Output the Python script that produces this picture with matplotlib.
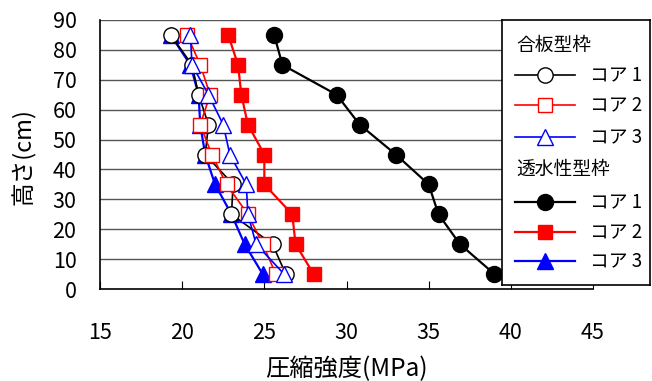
import matplotlib
matplotlib.use("Agg")
import matplotlib.pyplot as plt
from matplotlib.lines import Line2D

plt.rcParams['font.family'] = ['Noto Sans CJK JP', 'DejaVu Sans']

heights = [85, 75, 65, 55, 45, 35, 25, 15, 5]

# 合板型枠 (plywood formwork)
ply_core1 = [19.3, 20.6, 21.0, 21.6, 21.4, 23.1, 23.0, 25.5, 26.3]
ply_core2 = [20.3, 21.1, 21.7, 21.1, 21.8, 22.7, 24.0, 24.9, 25.7]
ply_core3 = [20.5, 20.6, 21.6, 22.5, 22.9, 23.9, 24.0, 24.5, 26.2]

# 透水性型枠 (permeable formwork)
perm_core1 = [25.6, 26.1, 29.4, 30.8, 33.0, 35.0, 35.6, 36.9, 39.0]
perm_core2 = [22.8, 23.4, 23.6, 24.0, 25.0, 25.0, 26.7, 26.9, 28.0]
perm_core3 = [19.3, 20.5, 21.0, 21.1, 21.4, 22.0, 23.0, 23.8, 24.9]

xticks = [15, 20, 25, 30, 35, 40, 45]
yticks = [0, 10, 20, 30, 40, 50, 60, 70, 80, 90]

group_titles = ["合板型枠", "透水性型枠"]
core_labels = ["コア 1", "コア 2", "コア 3"]

W, H = 652, 381
fig = plt.figure(figsize=(W / 100, H / 100), dpi=100)
ax = fig.add_axes([100 / W, (H - 289) / H, (593 - 100) / W, (289 - 20) / H])

colors = ["#000000", "#FF0000", "#0000FF"]
markers = ["o", "s", "^"]
filled_ms = [11.5, 10.5, 11.5]
open_ms = [11.0, 10.0, 11.0]

for i, vals in enumerate([perm_core1, perm_core2, perm_core3]):
    ax.plot(vals, heights, color=colors[i], marker=markers[i], markersize=filled_ms[i],
            markerfacecolor=colors[i], markeredgecolor=colors[i], lw=1.6, zorder=3 + i,
            clip_on=False)
for i, vals in enumerate([ply_core1, ply_core2, ply_core3]):
    ax.plot(vals, heights, color=colors[i], marker=markers[i], markersize=open_ms[i],
            markerfacecolor="white", markeredgecolor=colors[i], markeredgewidth=1.0,
            lw=1.2, zorder=6 + i, clip_on=False)

ax.set_xlim(15, 45)
ax.set_ylim(0, 90)
ax.set_xticks(xticks)
ax.set_yticks(yticks)
ax.tick_params(axis='x', direction='in', length=6, pad=24, labelsize=15.5)
ax.tick_params(axis='y', direction='in', length=0, pad=17, labelsize=15.5)
for y in yticks[1:]:
    ax.axhline(y, color="#555555", lw=1.0, zorder=1)
ax.spines['top'].set_visible(False)
ax.spines['right'].set_visible(False)
ax.spines['left'].set_linewidth(1.2)
ax.spines['bottom'].set_linewidth(1.2)

fig.text(346 / W, 1 - 369 / H, "圧縮強度(MPa)", ha="center", va="center", fontsize=17.5)
fig.text(24 / W, 1 - 157 / H, "高さ(cm)", ha="center", va="center", fontsize=17, rotation=90)

# Legend box
lx0, lx1, ly0, ly1 = 502, 650, 20, 285
lax = fig.add_axes([lx0 / W, (H - ly1) / H, (lx1 - lx0) / W, (ly1 - ly0) / H], zorder=10)
lax.set_xlim(lx0, lx1)
lax.set_ylim(ly1, ly0)
lax.set_xticks([])
lax.set_yticks([])
for s in lax.spines.values():
    s.set_linewidth(1.2)
    s.set_color("black")

title_y = [45, 169]
entry_y = [[75, 105, 137], [202, 232, 261]]
for g in range(2):
    lax.text(516, title_y[g], group_titles[g], ha="left", va="center", fontsize=13.5)
    for i in range(3):
        y = entry_y[g][i]
        face = colors[i] if g == 1 else "white"
        ms = filled_ms[i] if g == 1 else open_ms[i]
        lax.add_line(Line2D([515, 575], [y, y], color=colors[i], lw=1.2 if g == 0 else 1.6))
        lax.add_line(Line2D([545], [y], marker=markers[i], markersize=ms, color=colors[i],
                            markerfacecolor=face, markeredgecolor=colors[i], markeredgewidth=1.0))
        lax.text(590, y, core_labels[i], ha="left", va="center", fontsize=13.5)

fig.savefig("out.png", dpi=100)
